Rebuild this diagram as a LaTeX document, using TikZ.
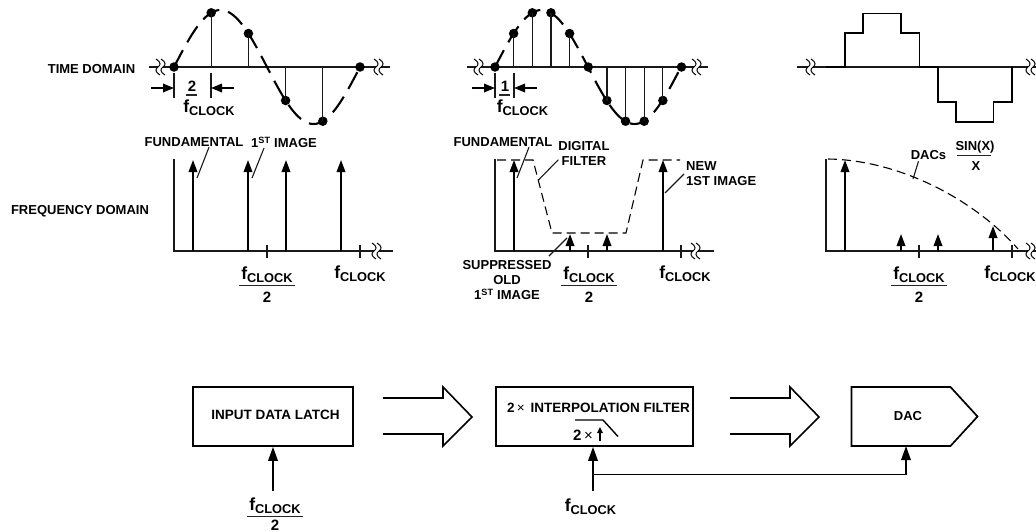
\documentclass[tikz,border=0pt]{standalone}
\usepackage{fontspec}
\setmainfont{Liberation Sans}
\usetikzlibrary{positioning,shapes,shapes.symbols,arrows.meta,calc}
\newcommand{\fclock}{{\fontsize{17.5}{17}\selectfont f}\raisebox{-3pt}{\fontsize{12.8}{13}\selectfont CLOCK}}
\tikzset{
    lbl/.style={font=\bfseries\fontsize{13}{15}\selectfont,inner sep=0pt,align=center},
    blocklbl/.style={font=\bfseries\fontsize{13.5}{15}\selectfont,inner sep=0pt,align=center},
    clklbl/.style={font=\bfseries,inner sep=0pt,anchor=base},
    numlbl/.style={font=\bfseries\fontsize{15}{15}\selectfont,inner sep=0pt},
    axisline/.style={line width=1.6pt,draw=black!90},
    wave/.style={line width=2.1pt,dash pattern=on 19pt off 9pt},
    stem/.style={line width=1.2pt,draw=black!90},
    dotnode/.style={circle,fill=black,inner sep=0pt,minimum size=9.5pt},
    spike/.style={line width=1.9pt,-{Triangle[length=12pt,width=8.5pt]}},
    leader/.style={line width=1.1pt,draw=black!90},
    filterline/.style={line width=1.1pt,dash pattern=on 9pt off 5pt},
    fracbar/.style={line width=1.3pt,draw=black!85},
    blockbox/.style={draw=black,line width=1.7pt,minimum height=59pt,inner sep=0pt},
    bigarrow/.style={line width=1.6pt,draw=black},
    clkarrow/.style={line width=1.8pt,-{Triangle[length=14pt,width=9.5pt]}},
    brk/.pic={
        \fill[white] (-2,-8) .. controls (3,-5) and (3,-2) .. (0,0) .. controls (-3,2) and (-3,5) .. (2,8)
            -- (7,8) .. controls (2,5) and (2,2) .. (5,0) .. controls (8,-2) and (8,-5) .. (3,-8) -- cycle;
        \draw[line width=1pt] (-2,-8) .. controls (3,-5) and (3,-2) .. (0,0) .. controls (-3,2) and (-3,5) .. (2,8);
        \draw[line width=1pt] (3,-8) .. controls (8,-5) and (8,-2) .. (5,0) .. controls (2,2) and (2,5) .. (7,8);
    }
}
\begin{document}
\begin{tikzpicture}[x=1pt,y=-1pt]
            \useasboundingbox (0,0) rectangle (1036,531);
            \node[lbl] (timedomain) at (91.5,69) {TIME DOMAIN};
            \node[lbl] (freqdomain) at (80,211) {FREQUENCY DOMAIN};
            \draw[axisline] (149,67) -- (390,67);
            \pic at (158,67) {brk};
            \pic at (376,67) {brk};
            \draw[wave] plot[domain=0:360,samples=73] ({174+0.51667*\x},{67-57*sin(\x)});
            \foreach \k in {0,2,4,6,8,10}
                {
                \node[dotnode] (aa\k) at ({174+18.6*\k},{67-57*sin(36*\k)}) {};
                \draw[stem] (aa\k.center) -- ({174+18.6*\k},67);
                }
            \draw[wave] plot[domain=0:360,samples=73] ({495+0.51667*\x},{67-57*sin(\x)});
            \draw[axisline] (467,67) -- (708,67);
            \pic at (476,67) {brk};
            \pic at (694,67) {brk};
            \foreach \k in {0,...,10}
                {
                \node[dotnode] (bb\k) at ({495+18.65*\k},{67-57*sin(36*\k)}) {};
                \draw[stem] (bb\k.center) -- ({495+18.65*\k},67);
                }
            \draw[axisline] (797,67) -- (1036,67);
            \pic at (808,67) {brk};
            \pic at (1028,67) {brk};
            \draw[line width=1.9pt] (826,67) -- (845,67) -- (845,33) -- (863,33) -- (863,13.5) -- (901,13.5) -- (901,33) -- (919.5,33) -- (919.5,67) -- (938,67) -- (938,102) -- (956,102) -- (956,122) -- (993.5,122) -- (993.5,102) -- (1012,102) -- (1012,67);
            \foreach \x in {174,211,495,514}
                \draw[stem] (\x,73) -- (\x,98);
            \foreach \a/\b in {151/174,234/211,472/495,537/514}
                \draw[line width=1.7pt,-{Triangle[length=11pt,width=8.5pt]}] (\a,88) -- (\b,88);
            \node[numlbl] (twoa) at (192,86) {2};
            \draw[fracbar] (186,95) -- (197,95);
            \node[clklbl] (clockdima) at (209,112) {\fclock};
            \node[numlbl] (onea) at (505,86) {1};
            \draw[fracbar] (499,95) -- (510,95);
            \node[clklbl] (clockdimb) at (522.5,112) {\fclock};
            \node[lbl] (funda) at (194,142.5) {FUNDAMENTAL};
            \node[lbl] (imagea) at (284,142.5) {1\textsuperscript{ST} IMAGE};
            \draw[leader] ([xshift=15pt]funda.south) -- (197,178);
            \draw[leader] ([xshift=-20pt]imagea.south) -- (252,178);
            \draw[axisline,line width=1.8pt] (174,159) -- (174,251) -- (393,251);
            \foreach \x in {193,248,286,341}
                \draw[spike] (\x,251) -- (\x,160);
            \foreach \x in {267,360}
                \draw[stem] (\x,245) -- (\x,258);
            \pic at (374,251) {brk};
            \node[lbl] (fundb) at (503,142.5) {FUNDAMENTAL};
            \node[lbl] (digital) at (584,153.5) {DIGITAL\\FILTER};
            \node[lbl,align=left,anchor=north west] (newimage) at (686,161) {NEW\\1ST IMAGE};
            \node[lbl] (suppressed) at (507,280) {SUPPRESSED\\OLD\\1\textsuperscript{ST} IMAGE};
            \draw[leader] ([xshift=26pt]fundb.south) -- (517,178);
            \draw[leader] (digital.south west) ++(0,-6) -- (538.5,180);
            \draw[leader] (684,174) -- (665,193);
            \draw[leader] (567,238) -- (549,256);
            \draw[axisline,line width=1.8pt] (495,159) -- (495,251) -- (714,251);
            \foreach \x/\y in {514/160,570/234,607/234,663/160}
                \draw[spike] (\x,251) -- (\x,\y);
            \foreach \x in {588,681}
                \draw[stem] (\x,245) -- (\x,258);
            \pic at (693,251) {brk};
            \draw[filterline] (497,160) -- (533,160) -- (552,233) -- (626,233) -- (643,160) -- (680,160);
            \node[lbl] (dacs) at (928.5,155.5) {DACs};
            \node[lbl] (sinx) at (975,147) {SIN(X)};
            \draw[fracbar] (957,155.5) -- (991,155.5);
            \node[lbl] (xden) at (976,166) {X};
            \draw[leader] (dacs.south) ++(-10,1) -- (913,179);
            \draw[axisline,line width=1.8pt] (826,159) -- (826,251) -- (1036,251);
            \foreach \x/\y in {845/160,901/234,938/234,993/226}
                \draw[spike] (\x,251) -- (\x,\y);
            \foreach \x in {919,1012}
                \draw[stem] (\x,245) -- (\x,258);
            \pic at (1028,251) {brk};
            \draw[filterline] (828,159) .. controls (900,160) and (975,200) .. (1018,249);
            \foreach \n/\x in {fa/267,fb/589,fc/919}
                {
                \node[clklbl] (\n top) at (\x,279) {\fclock};
                \draw[fracbar] (\x-28,285.5) -- (\x+28,285.5);
                \node[numlbl] (\n bot) at (\x,297) {2};
                }
            \foreach \n/\x in {ga/360,gb/685,gc/1010}
                \node[clklbl] (\n) at (\x,278) {\fclock};
            \node[blockbox,minimum width=160pt] (latch) at (273,416.5) {};
            \node[blocklbl] (latchtxt) at (275.5,415) {INPUT DATA LATCH};
            \node[blockbox,minimum width=197pt] (interp) at (594.5,416.5) {};
            \node[blocklbl] (interptxt) at (598.5,408) {2{\mdseries\,×}\, INTERPOLATION FILTER};
            \node[signal,signal to=east,signal pointer angle=95,draw=black,line width=1.7pt,minimum width=126pt,minimum height=59pt,inner sep=0pt] (dac) at (901,416.5) {};
            \node[lbl] (dactxt) at (908,416) {DAC};
            \foreach \x in {383,730}
                \draw[bigarrow] (\x,398) -- ++(60,0) -- ++(0,-11) -- ++(29,30) -- ++(-29,29) -- ++(0,-12) -- ++(-60,0);
            \draw[line width=1.4pt] (575,420) -- (603,420) -- (618,436.5);
            \node[numlbl] (twox) at (583,435) {2{\mdseries\,×}};
            \draw[line width=1.3pt,-{Triangle[length=6pt,width=5.5pt]}] (600,441) -- (600,427);
            \coordinate (clka) at (273,491);
            \coordinate (clkb) at (593,491);
            \coordinate (clkjoin) at (593,474.5);
            \coordinate (dacin) at (906,446);
            \draw[clkarrow] (clka) -- (clka |- latch.south);
            \draw[clkarrow] (clkb) -- (clkb |- interp.south);
            \draw[line width=1.6pt,-{Triangle[length=14pt,width=9.5pt]}] (clkjoin) -| (dacin);
            \node[clklbl] (clocka) at (275,510) {\fclock};
            \draw[fracbar] (247,516.5) -- (303,516.5);
            \node[numlbl] (twoc) at (275,525) {2};
            \node[clklbl] (clockb) at (590.5,511.5) {\fclock};
            \end{tikzpicture}
\end{document}
